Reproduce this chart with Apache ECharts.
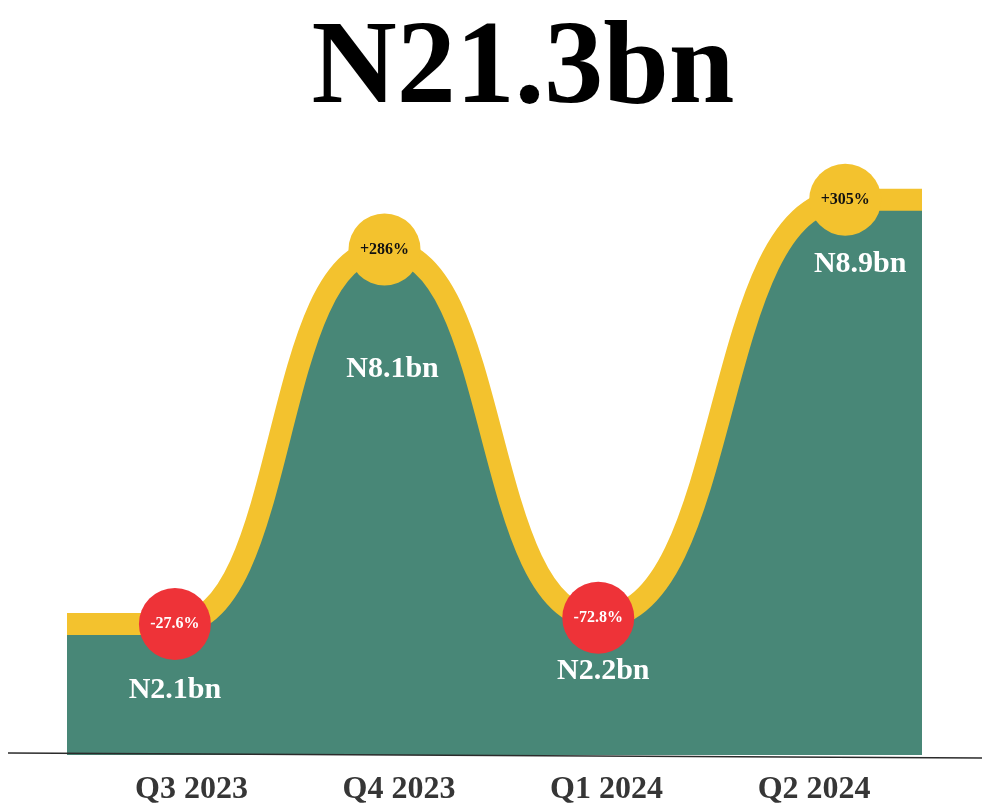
<!DOCTYPE html>
<html>
<head>
<meta charset="utf-8">
<script src="https://cdn.jsdelivr.net/npm/echarts@6/dist/echarts.min.js"></script>
<style>
  html, body { margin: 0; padding: 0; background: #fff; }
  #main { width: 982px; height: 809px; }
</style>
</head>
<body>
<div id="main"></div>
<script>
// quarterly figures, N billion
var quarters = ['Q3 2023', 'Q4 2023', 'Q1 2024', 'Q2 2024']
var values = [2.1, 8.1, 2.2, 8.9]
var changes = ['-27.6%', '+286%', '-72.8%', '+305%']
var valueLabels = ['N2.1bn', 'N8.1bn', 'N2.2bn', 'N8.9bn']
var total = 'N21.3bn'
// where each point sits along the quarter axis
var pointPos = [-0.08, 0.93, 1.96, 3.15]
var axisStart = -0.6
var axisEnd = 3.52

var GREEN = '#488777'
var YELLOW = '#f3c22e'
var RED = '#ee3338'
var FONT = '"Liberation Serif", "DejaVu Serif", serif'

var chart = echarts.init(document.getElementById('main'))

// the line runs flat out to both edges of the plot
var lineData = [[axisStart, values[0]]]
pointPos.forEach(function (p, i) { lineData.push([p, values[i]]) })
lineData.push([axisEnd, values[values.length - 1]])

var circleData = pointPos.map(function (p, i) {
  var up = changes[i].charAt(0) === '+'
  return {
    value: [p, values[i]],
    itemStyle: { color: up ? YELLOW : RED, opacity: 1 },
    label: { color: up ? '#111' : '#fff' }
  }
})

// offsets of the white value labels from their points
var labelOffsets = [[0, 66], [8, 120], [5, 54], [15, 65]]
var valueData = pointPos.map(function (p, i) {
  return {
    value: [p, values[i]],
    label: { formatter: valueLabels[i], offset: labelOffsets[i] }
  }
})

var option = {
  animation: false,
  grid: { left: 67, right: 60, top: 131, bottom: 54 },
  xAxis: {
    type: 'value',
    min: axisStart,
    max: axisEnd,
    axisLine: { show: false },
    axisTick: { show: false },
    splitLine: { show: false },
    axisLabel: {
      customValues: [0, 1, 2, 3],
      formatter: function (v) { return quarters[Math.round(v)] },
      margin: 19,
      color: '#363636',
      fontFamily: FONT,
      fontWeight: 'bold',
      fontSize: 32
    }
  },
  yAxis: {
    type: 'value',
    min: 0,
    max: 10,
    show: false
  },
  graphic: [
    {
      type: 'text',
      x: 523,
      y: 72,
      style: {
        text: total,
        font: 'bold 118px ' + FONT,
        fill: '#000',
        align: 'center',
        verticalAlign: 'middle'
      }
    },
    {
      type: 'line',
      z: 100,
      shape: { x1: 8, y1: 753, x2: 982, y2: 758 },
      style: { stroke: '#2b2b2b', lineWidth: 1.5 }
    }
  ],
  series: [
    {
      type: 'line',
      data: lineData,
      smooth: 0.55,
      smoothMonotone: 'x',
      showSymbol: false,
      z: 2,
      lineStyle: { color: YELLOW, width: 22, cap: 'butt' },
      areaStyle: { color: GREEN, opacity: 1 }
    },
    {
      type: 'scatter',
      data: circleData,
      symbol: 'circle',
      symbolSize: 72,
      z: 4,
      emphasis: { disabled: true },
      label: {
        show: true,
        position: 'inside',
        formatter: function (p) { return changes[p.dataIndex] },
        fontFamily: FONT,
        fontWeight: 'bold',
        fontSize: 16
      }
    },
    {
      type: 'scatter',
      data: valueData,
      symbolSize: 0,
      z: 5,
      itemStyle: { opacity: 1 },
      emphasis: { disabled: true },
      label: {
        show: true,
        position: 'inside',
        color: '#fff',
        fontFamily: FONT,
        fontWeight: 'bold',
        fontSize: 30
      }
    }
  ]
}

option && chart.setOption(option)
</script>
</body>
</html>
